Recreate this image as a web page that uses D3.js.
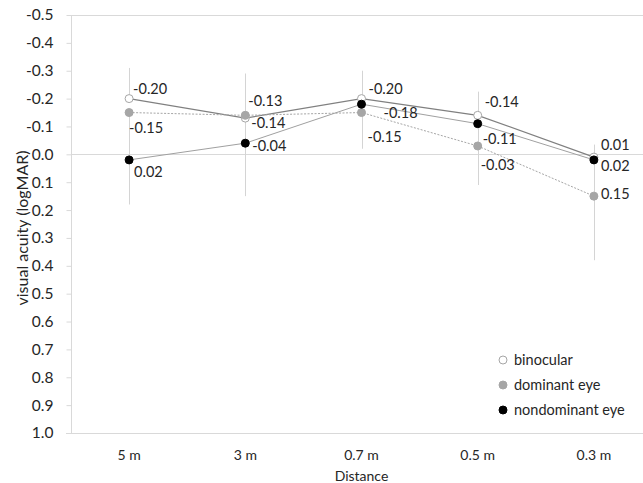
<!DOCTYPE html>
<meta charset="utf-8">
<style>
body { margin: 0; background: #fff; }
text { font-family: Lato, "Liberation Sans", sans-serif; fill: #262626; }
.grid line { stroke: #d9d9d9; stroke-width: 1; }
</style>
<svg width="643" height="483"></svg>
<script src="https://d3js.org/d3.v7.min.js"></script>
<script>
var distances = ["5 m", "3 m", "0.7 m", "0.5 m", "0.3 m"];
var binocular = [-0.20, -0.13, -0.20, -0.14, 0.01];
var dominant = [-0.15, -0.14, -0.15, -0.03, 0.15];
var nondominant = [0.02, -0.04, -0.18, -0.11, 0.02];
// error bars are one-sided: binocular upward, the single eyes downward
var binocularSD = [0.11, 0.16, 0.10, 0.085, 0.045];
var dominantSD = [0.20, 0.15, 0.13, 0.14, 0.23];
var nondominantSD = [0.16, 0.19, 0.12, 0.15, 0.20];
var yTicks = [-0.5, -0.4, -0.3, -0.2, -0.1, 0.0, 0.1, 0.2, 0.3, 0.4, 0.5, 0.6, 0.7, 0.8, 0.9, 1.0];

var svg = d3.select("svg");

var x = d3.scaleBand().domain(distances).range([71, 652]);
var y = d3.scaleLinear().domain([-0.5, 1.0]).range([15, 433]);
var cx = function(d, i) { return x(distances[i]) + x.bandwidth() / 2; };

var series = [
  { name: "binocular", values: binocular, sd: binocularSD, dir: -1,
    fill: "#fff", stroke: "#a6a6a6", line: "#808080", dash: null, lw: 1.2,
    nudge: [[4, -10], [3, -17], [7, -10], [7, -13], [7, -12]] },
  { name: "dominant eye", values: dominant, sd: dominantSD, dir: 1,
    fill: "#a6a6a6", stroke: "#a6a6a6", line: "#a6a6a6", dash: "2,1.5", lw: 1,
    nudge: [[0, 15], [6, 8], [6, 24], [3, 19], [7, -2]] },
  { name: "nondominant eye", values: nondominant, sd: nondominantSD, dir: 1,
    fill: "#000", stroke: "#000", line: "#a0a0a0", dash: null, lw: 1,
    nudge: [[5, 12], [7, 3], [22, 9], [5, 15], [7, 6]] }
];

// grid / axis lines
var grid = svg.append("g").attr("class", "grid");
[-0.5, 0.0, 1.0].forEach(function(v) {
  grid.append("line").attr("x1", v === 1.0 ? 66 : 71).attr("x2", 643)
    .attr("y1", Math.round(y(v)) + 0.5).attr("y2", Math.round(y(v)) + 0.5);
});

var yAxis = d3.axisLeft(y)
  .tickValues(yTicks)
  .tickSize(5)
  .tickPadding(13)
  .tickFormat(function(d) { return d.toFixed(1); });
var ya = svg.append("g").attr("transform", "translate(71.5,0)").call(yAxis);
ya.select(".domain").attr("stroke", "#d9d9d9").attr("d", "M0," + y(-0.5) + "V" + y(1.0));
ya.selectAll(".tick line").attr("stroke", "#d9d9d9");
ya.selectAll(".tick text").style("font-size", "15.5px").attr("fill", "#404040");

svg.append("text")
  .attr("transform", "translate(22,228) rotate(-90)")
  .attr("text-anchor", "middle")
  .attr("dy", "0.35em")
  .style("font-size", "16px")
  .attr("fill", "#404040")
  .text("visual acuity (logMAR)");

svg.append("g").selectAll("text")
  .data(distances).enter().append("text")
  .attr("x", function(d) { return x(d) + x.bandwidth() / 2; })
  .attr("y", 455)
  .attr("dy", "0.35em")
  .attr("text-anchor", "middle")
  .style("font-size", "14px")
  .attr("fill", "#404040")
  .text(function(d) { return d; });

svg.append("text")
  .attr("x", (x.range()[0] + x.range()[1]) / 2)
  .attr("y", 476)
  .attr("dy", "0.35em")
  .attr("text-anchor", "middle")
  .style("font-size", "14px")
  .attr("fill", "#404040")
  .text("Distance");

// error bars
series.forEach(function(s) {
  svg.append("g").selectAll("line")
    .data(s.values).enter().append("line")
    .attr("x1", function(d, i) { return Math.round(cx(d, i)) + 0.5; })
    .attr("x2", function(d, i) { return Math.round(cx(d, i)) + 0.5; })
    .attr("y1", function(d) { return y(d); })
    .attr("y2", function(d, i) { return y(d + s.dir * s.sd[i]); })
    .attr("stroke", "#d4d4d4")
    .attr("stroke-width", 1);
});

// lines
var line = d3.line().x(cx).y(function(d) { return y(d); });
series.forEach(function(s) {
  svg.append("path")
    .datum(s.values)
    .attr("d", line)
    .attr("fill", "none")
    .attr("stroke", s.line)
    .attr("stroke-width", s.lw)
    .attr("stroke-dasharray", s.dash);
});

// markers
series.forEach(function(s) {
  svg.append("g").selectAll("circle")
    .data(s.values).enter().append("circle")
    .attr("cx", cx)
    .attr("cy", function(d) { return y(d); })
    .attr("r", 4)
    .attr("fill", s.fill)
    .attr("stroke", s.stroke)
    .attr("stroke-width", 1);
});

// data labels
series.forEach(function(s) {
  svg.append("g").selectAll("text")
    .data(s.values).enter().append("text")
    .attr("x", function(d, i) { return cx(d, i) + s.nudge[i][0]; })
    .attr("y", function(d, i) { return y(d) + s.nudge[i][1]; })
    .attr("dy", "0.35em")
    .style("font-size", "14.5px")
    .attr("fill", "#000")
    .text(function(d) { return d.toFixed(2); });
});

// legend
var legend = svg.append("g").selectAll("g")
  .data(series).enter().append("g")
  .attr("transform", function(d, i) { return "translate(503," + (360 + i * 25) + ")"; });
legend.append("circle")
  .attr("r", 4)
  .attr("fill", function(d) { return d.fill; })
  .attr("stroke", function(d) { return d.stroke; });
legend.append("text")
  .attr("x", 11)
  .attr("dy", "0.35em")
  .style("font-size", "14.5px")
  .text(function(d) { return d.name; });
</script>
